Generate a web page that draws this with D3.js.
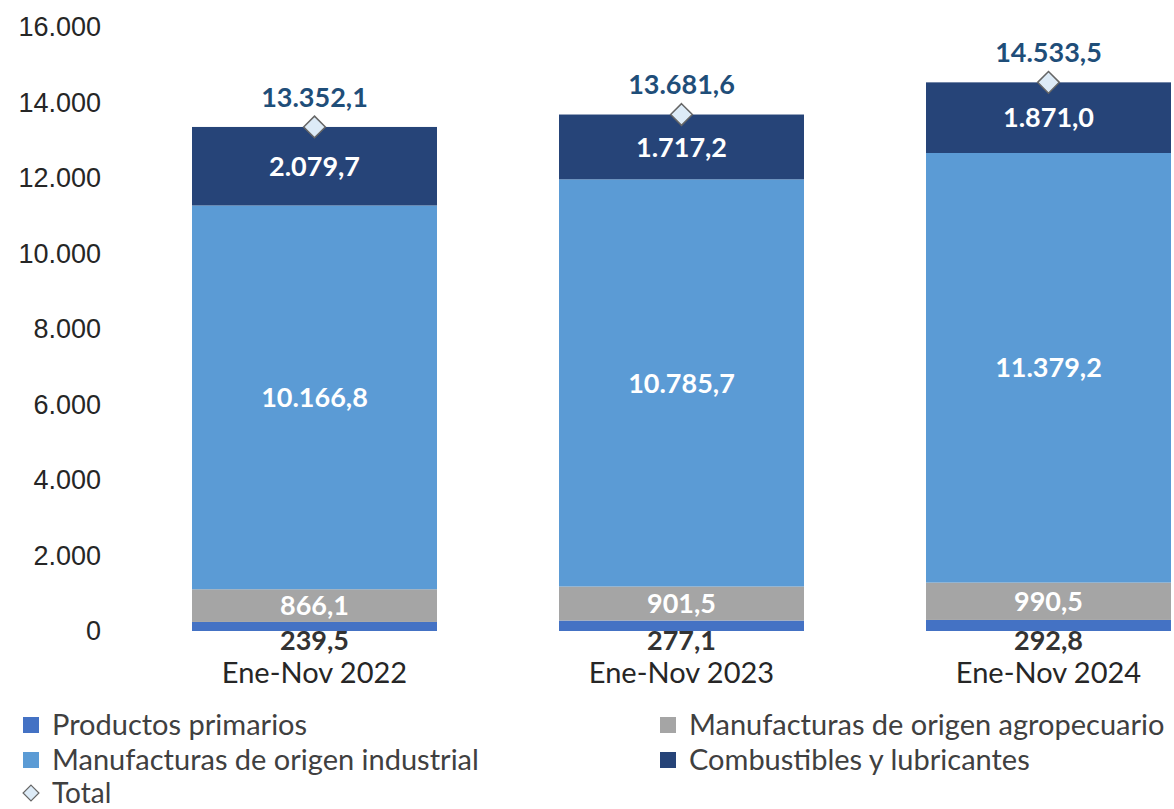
<!DOCTYPE html>
<html>
<head>
<meta charset="utf-8">
<script src="https://cdn.jsdelivr.net/npm/d3@7"></script>
<style>
  body { margin: 0; background: #fff; }
  svg { display: block; font-family: "Gill Sans", "Gill Sans MT", Lato, sans-serif; }
</style>
</head>
<body>
<svg width="1174" height="809"></svg>
<script>
var categories = ["Ene-Nov 2022", "Ene-Nov 2023", "Ene-Nov 2024"];
var seriesNames = ["Productos primarios", "Manufacturas de origen agropecuario",
                   "Manufacturas de origen industrial", "Combustibles y lubricantes"];
var primarios    = [239.5, 277.1, 292.8];
var moa          = [866.1, 901.5, 990.5];
var moi          = [10166.8, 10785.7, 11379.2];
var combustibles = [2079.7, 1717.2, 1871.0];
var totals       = [13352.1, 13681.6, 14533.5];
var yTicks = [0, 2000, 4000, 6000, 8000, 10000, 12000, 14000, 16000];

var colors = ["#4472C4", "#A5A5A5", "#5B9BD5", "#264478"];

var svg = d3.select("svg");

var fmt = d3.formatLocale({decimal: ",", thousands: ".", grouping: [3], currency: ["", ""]});
var fmtTick = fmt.format(",.0f"),
    fmtVal = fmt.format(",.1f");

// plot runs past the right edge, like the reference (third bar is cut)
var x = d3.scaleBand().domain(categories).range([131, 1232]).paddingInner(122 / 367).paddingOuter(61 / 367);
var y = d3.scaleLinear().domain([0, 16000]).range([631, 27]);

var rows = categories.map(function(c, i) {
  return {cat: c, s0: primarios[i], s1: moa[i], s2: moi[i], s3: combustibles[i], total: totals[i]};
});
var stack = d3.stack().keys(["s0", "s1", "s2", "s3"]);
var layers = stack(rows);

// y axis (labels only)
var yAxis = svg.append("g")
    .attr("transform", "translate(101,0)")
    .call(d3.axisLeft(y).tickValues(yTicks).tickFormat(fmtTick).tickSize(0).tickPadding(0));
yAxis.select(".domain").remove();
yAxis.selectAll("text").attr("font-size", 27).attr("fill", "#262626").attr("font-family", null);

// bars
var layer = svg.append("g").selectAll("g")
  .data(layers).enter().append("g")
    .attr("fill", function(d, i) { return colors[i]; });

layer.selectAll("rect")
  .data(function(d) { return d; })
  .enter().append("rect")
    .attr("x", function(d) { return x(d.data.cat); })
    .attr("width", x.bandwidth())
    .attr("y", function(d) { return y(d[1]); })
    .attr("height", function(d) { return y(d[0]) - y(d[1]); });

// segment labels
layers.forEach(function(L, li) {
  svg.append("g").selectAll("text")
    .data(L).enter().append("text")
      .attr("x", function(d) { return x(d.data.cat) + x.bandwidth() / 2; })
      .attr("y", function(d) {
        if (li === 0) return y(0) + 9;   // too thin, label sits under the bar
        return (y(d[0]) + y(d[1])) / 2;
      })
      .attr("dy", "0.36em")
      .attr("text-anchor", "middle")
      .attr("font-size", 27)
      .attr("font-weight", "bold")
      .attr("fill", li === 0 ? "#333333" : "#ffffff")
      .text(function(d) { return fmtVal(d[1] - d[0]); });
});

// x category labels
svg.append("g").selectAll("text")
  .data(categories).enter().append("text")
    .attr("x", function(d) { return x(d) + x.bandwidth() / 2; })
    .attr("y", 673)
    .attr("dy", "0.36em")
    .attr("text-anchor", "middle")
    .attr("font-size", 29)
    .attr("fill", "#262626")
    .text(function(d) { return d; });

// totals: diamond markers + labels
var diamond = d3.symbol().type(d3.symbolDiamond2).size(300);
svg.append("g").selectAll("path")
  .data(rows).enter().append("path")
    .attr("d", diamond)
    .attr("transform", function(d) { return "translate(" + (x(d.cat) + x.bandwidth() / 2) + "," + y(d.total) + ")"; })
    .attr("fill", "#DDEBF7")
    .attr("stroke", "#666666")
    .attr("stroke-width", 1.5);

svg.append("g").selectAll("text")
  .data(rows).enter().append("text")
    .attr("x", function(d) { return x(d.cat) + x.bandwidth() / 2; })
    .attr("y", function(d) { return y(d.total) - 30; })
    .attr("dy", "0.36em")
    .attr("text-anchor", "middle")
    .attr("font-size", 27)
    .attr("font-weight", "bold")
    .attr("fill", "#1F4E79")
    .text(function(d) { return fmtVal(d.total); });

// legend
var legendItems = [
  {name: seriesNames[0], color: colors[0], x: 23, y: 725},
  {name: seriesNames[1], color: colors[1], x: 660, y: 725},
  {name: seriesNames[2], color: colors[2], x: 23, y: 760},
  {name: seriesNames[3], color: colors[3], x: 660, y: 760}
];
var lg = svg.append("g").selectAll("g")
  .data(legendItems).enter().append("g")
    .attr("transform", function(d) { return "translate(" + d.x + "," + d.y + ")"; });
lg.append("rect")
    .attr("x", 0).attr("y", -8).attr("width", 16).attr("height", 16)
    .attr("fill", function(d) { return d.color; });
lg.append("text")
    .attr("x", 29).attr("dy", "0.36em")
    .attr("font-size", 29).attr("fill", "#404040")
    .text(function(d) { return d.name; });

var tl = svg.append("g").attr("transform", "translate(31,793)");
tl.append("path")
    .attr("d", d3.symbol().type(d3.symbolDiamond2).size(160))
    .attr("fill", "#DDEBF7").attr("stroke", "#666666").attr("stroke-width", 1.2);
tl.append("text")
    .attr("x", 21).attr("dy", "0.34em")
    .attr("font-size", 28).attr("fill", "#404040")
    .text("Total");
</script>
</body>
</html>
